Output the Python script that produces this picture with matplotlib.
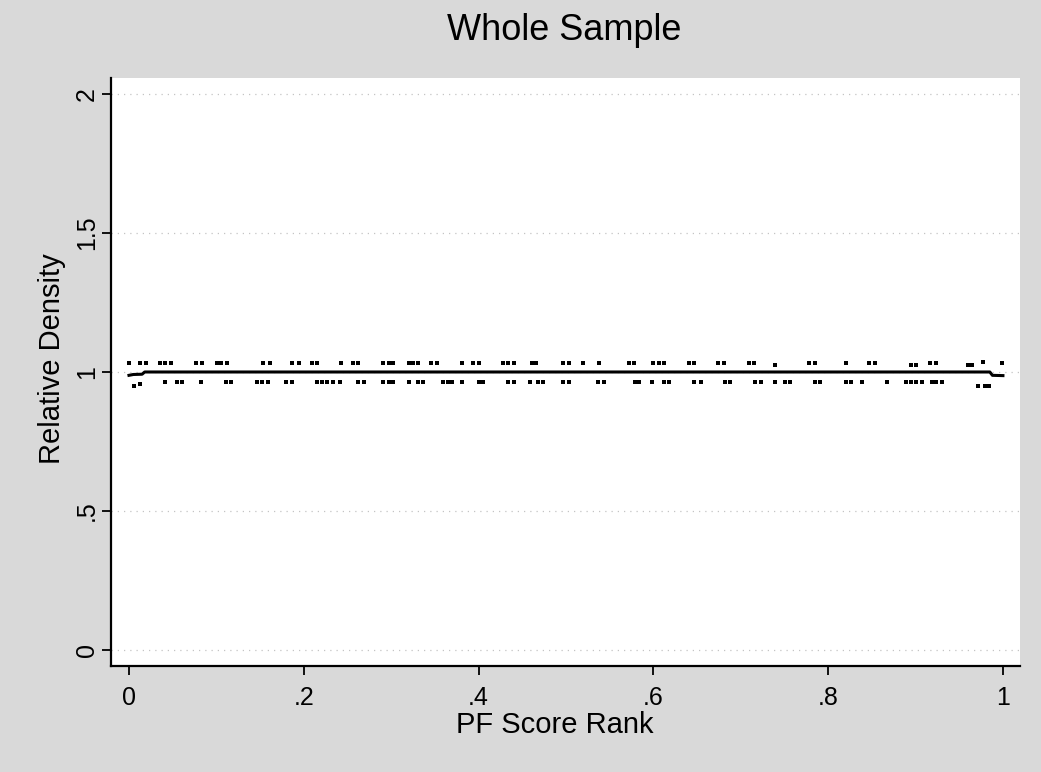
import matplotlib
matplotlib.use("Agg")
import matplotlib.pyplot as plt

plt.rcParams['font.family'] = ['Liberation Sans', 'DejaVu Sans']

# Smoothed relative density curve
curve_x = [0.0, 0.005, 0.015, 0.018, 0.985, 0.988, 1.0]
curve_y = [0.988, 0.991, 0.992, 1.0, 1.0, 0.988, 0.987]

# Binned relative density, points above 1
upper_x = [0.000, 0.013, 0.020, 0.035, 0.041, 0.048, 0.077, 0.083, 0.101, 0.105,
           0.112, 0.153, 0.161, 0.187, 0.194, 0.209, 0.215, 0.243, 0.256, 0.262,
           0.291, 0.297, 0.302, 0.320, 0.325, 0.331, 0.346, 0.352, 0.381, 0.394,
           0.400, 0.428, 0.434, 0.440, 0.461, 0.466, 0.497, 0.503, 0.520, 0.538,
           0.572, 0.578, 0.600, 0.606, 0.612, 0.641, 0.647, 0.674, 0.681, 0.709,
           0.715, 0.739, 0.778, 0.785, 0.820, 0.847, 0.854, 0.895, 0.901, 0.916,
           0.923, 0.960, 0.965, 0.977, 0.999]
upper_y = [1.034] * 51 + [1.024] + [1.034] * 5 + [1.024, 1.024] + [1.034] * 2 + [1.026, 1.026, 1.036, 1.034]

# Binned relative density, points below 1
lower_x = [0.006, 0.013, 0.041, 0.055, 0.061, 0.082, 0.111, 0.117, 0.146, 0.152,
           0.159, 0.180, 0.187, 0.215, 0.221, 0.227, 0.234, 0.241, 0.262, 0.269,
           0.291, 0.298, 0.302, 0.320, 0.331, 0.337, 0.359, 0.365, 0.370, 0.381,
           0.400, 0.405, 0.434, 0.440, 0.459, 0.468, 0.474, 0.497, 0.503, 0.537,
           0.543, 0.579, 0.584, 0.599, 0.612, 0.618, 0.646, 0.654, 0.682, 0.688,
           0.716, 0.723, 0.739, 0.751, 0.756, 0.785, 0.791, 0.820, 0.826, 0.839,
           0.867, 0.889, 0.895, 0.900, 0.907, 0.919, 0.923, 0.930, 0.972, 0.979,
           0.984]
lower_y = [0.950, 0.957] + [0.965] * 66 + [0.951, 0.951, 0.951]

x_ticks = [0, 0.2, 0.4, 0.6, 0.8, 1.0]
x_labels = ["0", ".2", ".4", ".6", ".8", "1"]
y_ticks = [0, 0.5, 1.0, 1.5, 2.0]
y_labels = ["0", ".5", "1", "1.5", "2"]

bg = "#d9d9d9"
fig = plt.figure(figsize=(10.41, 7.72), dpi=100, facecolor=bg)
ax = fig.add_axes([0.1066, 0.1373, 0.8732, 0.7617])
ax.set_facecolor("white")

# faint dotted grid at the y ticks
for yt in y_ticks:
    ax.axhline(yt, color="#c4c4c4", lw=0.9, ls=(0, (1, 4)), zorder=1)

ax.plot(upper_x, upper_y, ls="none", marker="s", ms=2.3, color="black",
        mew=0, zorder=3)
ax.plot(lower_x, lower_y, ls="none", marker="s", ms=2.3, color="black",
        mew=0, zorder=3)
ax.plot(curve_x, curve_y, color="black", lw=2.2, zorder=4)

ax.set_xlim(-0.0206, 1.0195)
ax.set_ylim(-0.0576, 2.0576)

ax.set_xticks(x_ticks)
ax.set_xticklabels(x_labels)
ax.set_yticks(y_ticks)
ax.set_yticklabels(y_labels, rotation=90, va="center")

for side in ("top", "right"):
    ax.spines[side].set_visible(False)
for side in ("left", "bottom"):
    ax.spines[side].set_linewidth(1.6)
    ax.spines[side].set_color("black")

ax.tick_params(axis="both", direction="out", length=6.5, width=1.3,
               labelsize=18, colors="black")
ax.tick_params(axis="x", pad=8)
ax.tick_params(axis="y", pad=2)

ax.set_xlabel("PF Score Rank", fontsize=21, labelpad=0)
ax.xaxis.set_label_coords(0.488, -0.076)
ax.set_ylabel("Relative Density", fontsize=21)
ax.yaxis.set_label_coords(-0.050, 0.522)

fig.text(0.542, 1 - 31 / 772, "Whole Sample", fontsize=26,
         ha="center", va="center")

fig.savefig("out.png", dpi=100, facecolor=bg)
